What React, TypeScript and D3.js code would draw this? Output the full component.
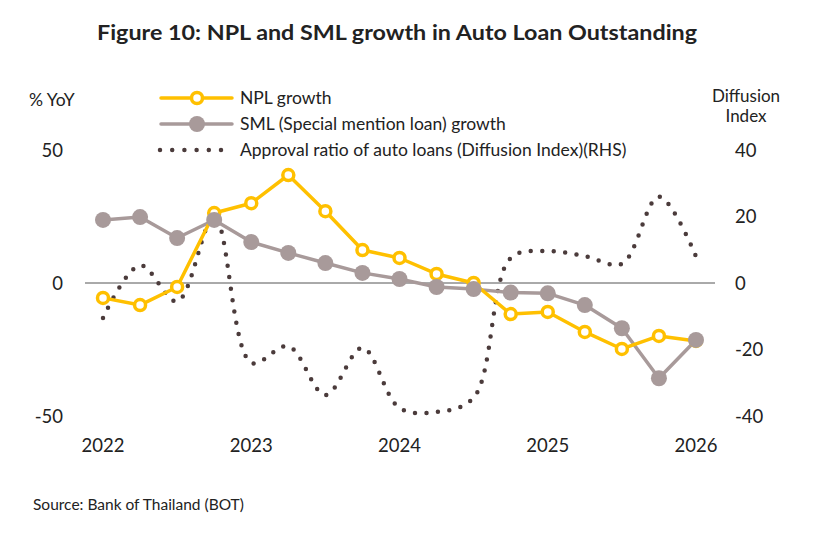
import React, { useEffect, useRef } from 'react';
import * as d3 from 'd3';

/* ── Data (quarterly, 2022Q1 → 2026Q1) ───────────────────────────── */
const quarters = [
  '2022Q1', '2022Q2', '2022Q3', '2022Q4',
  '2023Q1', '2023Q2', '2023Q3', '2023Q4',
  '2024Q1', '2024Q2', '2024Q3', '2024Q4',
  '2025Q1', '2025Q2', '2025Q3', '2025Q4',
  '2026Q1',
];
const yearLabels = ['2022', '2023', '2024', '2025', '2026'];

const nplGrowth = [
  -5.6, -8.3, -1.5, 26.3, 30, 40.6, 27, 12.4,
  9.4, 3.4, 0, -11.7, -10.9, -18.4, -24.8, -19.9, -21.8,
];
const smlGrowth = [
  23.7, 24.8, 16.9, 23.7, 15.4, 11.3, 7.5, 3.8,
  1.5, -1.5, -2.3, -3.6, -3.9, -8.3, -17, -35.8, -21.4,
];
const approvalDI = [
  -10.5, 5.3, -5.5, 19.8, -24, -19, -33.7, -19.5,
  -37.6, -38.8, -34.5, 7.5, 9.6, 8.1, 5.8, 26, 8,
];

const leftTicks = [-50, 0, 50];
const rightTicks = [-40, -20, 0, 20, 40];

const COLORS = {
  npl: '#FFC000',
  sml: '#A89A9A',
  di: '#4B3B3B',
  text: '#222222',
  axis: '#555555',
};

const FONT = 'Lato, "Open Sans", sans-serif';

export default function App() {
  const svgRef = useRef<SVGSVGElement>(null);

  useEffect(() => {
    if (!svgRef.current) return;
    const svg = d3.select(svgRef.current);
    svg.selectAll('*').remove();

    const W = 840;
    const H = 538;

    svg.append('rect').attr('width', W).attr('height', H).attr('fill', '#fff');

    const x = d3.scalePoint<string>().domain(quarters).range([103, 696]);
    const yL = d3.scaleLinear().domain([-50, 50]).range([416, 150]);
    const yR = d3.scaleLinear().domain([-40, 40]).range([416, 150]);

    // Title
    svg.append('text')
      .attr('x', 397)
      .attr('y', 40)
      .attr('text-anchor', 'middle')
      .attr('font-family', FONT)
      .attr('font-weight', 700)
      .attr('font-size', 21)
      .attr('fill', COLORS.text)
      .attr('textLength', 600)
      .attr('lengthAdjust', 'spacingAndGlyphs')
      .text('Figure 10: NPL and SML growth in Auto Loan Outstanding');

    // Axis titles
    svg.append('text')
      .attr('x', 29).attr('y', 106)
      .attr('font-family', FONT).attr('font-size', 17.5).attr('fill', COLORS.text)
      .text('% YoY');
    ['Diffusion', 'Index'].forEach((t, i) => {
      svg.append('text')
        .attr('x', 746).attr('y', 102 + i * 20)
        .attr('text-anchor', 'middle')
        .attr('font-family', FONT).attr('font-size', 17).attr('fill', COLORS.text)
        .text(t);
    });

    // Tick labels (no axis lines in the original)
    svg.append('g').selectAll('text')
      .data(leftTicks).enter().append('text')
      .attr('x', 63).attr('y', d => yL(d) + 6.5)
      .attr('text-anchor', 'end')
      .attr('font-family', FONT).attr('font-size', 18.5).attr('fill', COLORS.text)
      .text(d => String(d));

    svg.append('g').selectAll('text')
      .data(rightTicks).enter().append('text')
      .attr('x', 735).attr('y', d => yR(d) + 6.5)
      .attr('text-anchor', 'start')
      .attr('font-family', FONT).attr('font-size', 18.5).attr('fill', COLORS.text)
      .text(d => String(d));

    svg.append('g').selectAll('text')
      .data(yearLabels).enter().append('text')
      .attr('x', d => x(`${d}Q1`)!)
      .attr('y', 452)
      .attr('text-anchor', 'middle')
      .attr('font-family', FONT).attr('font-size', 18.5).attr('fill', COLORS.text)
      .text(d => d);

    // Zero line
    svg.append('line')
      .attr('x1', 85).attr('x2', 715)
      .attr('y1', yL(0)).attr('y2', yL(0))
      .attr('stroke', COLORS.axis).attr('stroke-width', 1);

    // Approval ratio (RHS) — smoothed dotted
    const diLine = d3.line<number>()
      .x((_, i) => x(quarters[i])!)
      .y(d => yR(d))
      .curve(d3.curveCatmullRom.alpha(0.5));
    svg.append('path')
      .attr('d', diLine(approvalDI))
      .attr('fill', 'none')
      .attr('stroke', COLORS.di)
      .attr('stroke-width', 4.5)
      .attr('stroke-linecap', 'round')
      .attr('stroke-dasharray', '0 11.5');

    // SML growth
    const lLine = d3.line<number>()
      .x((_, i) => x(quarters[i])!)
      .y(d => yL(d));
    svg.append('path')
      .attr('d', lLine(smlGrowth))
      .attr('fill', 'none')
      .attr('stroke', COLORS.sml)
      .attr('stroke-width', 3.5)
      .attr('stroke-linejoin', 'round');

    // NPL growth
    svg.append('path')
      .attr('d', lLine(nplGrowth))
      .attr('fill', 'none')
      .attr('stroke', COLORS.npl)
      .attr('stroke-width', 3.5)
      .attr('stroke-linejoin', 'round');

    svg.append('g').selectAll('circle')
      .data(nplGrowth).enter().append('circle')
      .attr('cx', (_, i) => x(quarters[i])!)
      .attr('cy', d => yL(d))
      .attr('r', 5.5)
      .attr('fill', '#fff')
      .attr('stroke', COLORS.npl)
      .attr('stroke-width', 3.5);

    svg.append('g').selectAll('circle')
      .data(smlGrowth).enter().append('circle')
      .attr('cx', (_, i) => x(quarters[i])!)
      .attr('cy', d => yL(d))
      .attr('r', 8)
      .attr('fill', COLORS.sml);

    // Legend
    const legend = svg.append('g');
    const rows = [
      { label: 'NPL growth', kind: 'npl', y: 98 },
      { label: 'SML (Special mention loan) growth', kind: 'sml', y: 124 },
      { label: 'Approval ratio of auto loans (Diffusion Index)(RHS)', kind: 'di', y: 150 },
    ];
    rows.forEach(r => {
      if (r.kind === 'di') {
        legend.append('line')
          .attr('x1', 160).attr('x2', 222)
          .attr('y1', r.y).attr('y2', r.y)
          .attr('stroke', COLORS.di)
          .attr('stroke-width', 4.5)
          .attr('stroke-linecap', 'round')
          .attr('stroke-dasharray', '0 12.2');
      } else {
        const c = r.kind === 'npl' ? COLORS.npl : COLORS.sml;
        legend.append('line')
          .attr('x1', 161).attr('x2', 232)
          .attr('y1', r.y).attr('y2', r.y)
          .attr('stroke', c).attr('stroke-width', 3.5).attr('stroke-linecap', 'round');
        if (r.kind === 'npl') {
          legend.append('circle').attr('cx', 197).attr('cy', r.y).attr('r', 5.5)
            .attr('fill', '#fff').attr('stroke', c).attr('stroke-width', 3.5);
        } else {
          legend.append('circle').attr('cx', 197).attr('cy', r.y).attr('r', 8).attr('fill', c);
        }
      }
      legend.append('text')
        .attr('x', 240).attr('y', r.y + 6)
        .attr('font-family', FONT).attr('font-size', 17.5).attr('fill', COLORS.text)
        .text(r.label);
    });

    // Source
    svg.append('text')
      .attr('x', 33).attr('y', 510)
      .attr('font-family', FONT).attr('font-size', 15.5).attr('fill', COLORS.text)
      .text('Source: Bank of Thailand (BOT)');
  }, []);

  return (
    <div style={{ position: 'absolute', left: 0, top: 0 }}>
      <svg ref={svgRef} width={840} height={538} style={{ display: 'block' }} />
    </div>
  );
}
